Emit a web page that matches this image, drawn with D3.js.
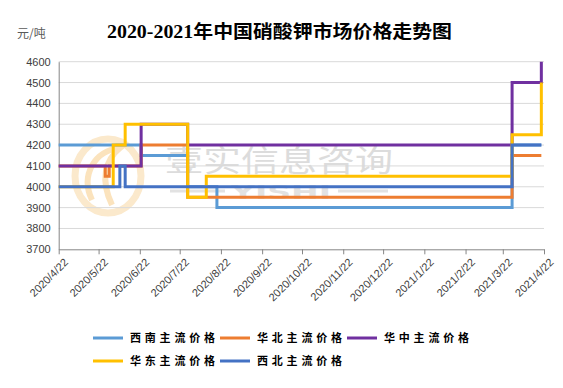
<!DOCTYPE html>
<html>
<head>
<meta charset="utf-8">
<script src="https://cdn.jsdelivr.net/npm/d3@7"></script>
<style>
  body { margin: 0; background: #fff; }
  svg { display: block; }
</style>
</head>
<body>
<svg id="chart" width="563" height="388"></svg>
<script>
//-- data --//
var seriesNames = ["西南主流价格", "华北主流价格", "华中主流价格", "华东主流价格", "西北主流价格"];
var seriesColors = ["#5B9BD5", "#ED7D31", "#7030A0", "#FFC000", "#4472C4"];

// price change points (date the new price starts) for each region
var xinanDates   = ["2020-04-22", "2020-06-23", "2020-07-28", "2020-08-19", "2021-03-29", "2021-04-20"];
var xinanValues  = [4200, 4150, 4000, 3900, 4200, 4200];

var huabeiDates  = ["2020-04-22", "2020-05-27", "2020-05-30", "2020-06-23", "2020-07-28", "2021-03-29", "2021-04-20"];
var huabeiValues = [4100, 4050, 4100, 4200, 3950, 4150, 4150];

var huazhongDates  = ["2020-04-22", "2020-06-23", "2020-07-28", "2021-03-29", "2021-04-20"];
var huazhongValues = [4100, 4300, 4200, 4500, 4600];

var huadongDates  = ["2020-04-22", "2020-06-02", "2020-06-11", "2020-07-28", "2020-08-11", "2021-03-29", "2021-04-20"];
var huadongValues = [4000, 4200, 4300, 3950, 4050, 4250, 4500];

var xibeiDates  = ["2020-04-22", "2020-06-07", "2020-06-11", "2021-03-29", "2021-04-20"];
var xibeiValues = [4000, 4100, 4000, 4200, 4200];

var yTicks = [3700, 3800, 3900, 4000, 4100, 4200, 4300, 4400, 4500, 4600];
var xTicks = ["2020-04-22", "2020-05-22", "2020-06-22", "2020-07-22", "2020-08-22", "2020-09-22", "2020-10-22",
              "2020-11-22", "2020-12-22", "2021-01-22", "2021-02-22", "2021-03-22", "2021-04-22"];
//-- data --//

var parse = d3.timeParse("%Y-%m-%d");
var fmt = d3.timeFormat("%Y/%-m/%-d");

var allSeries = [
    [xinanDates, xinanValues],
    [huabeiDates, huabeiValues],
    [huazhongDates, huazhongValues],
    [huadongDates, huadongValues],
    [xibeiDates, xibeiValues]
].map(function(s, i) {
    return {
        name: seriesNames[i],
        color: seriesColors[i],
        points: s[0].map((d, j) => ({date: parse(d), value: s[1][j]}))
    };
});

//-- margins --//
var svg = d3.select("#chart"),
    margin = {top: 61.7, left: 58.7, bottom: 249.3, right: 544};

var x = d3.scaleTime()
    .domain([parse(xTicks[0]), parse(xTicks[xTicks.length - 1])])
    .range([margin.left, margin.right]);

var y = d3.scaleLinear()
    .domain([3700, 4600])
    .range([margin.bottom, margin.top]);

//-- watermark --//
var wm = svg.append("g").attr("class", "watermark");
wm.append("ellipse")
    .attr("cx", 108).attr("cy", 176).attr("rx", 33).attr("ry", 37)
    .attr("fill", "none").attr("stroke", "#fbe9cc").attr("stroke-width", 7);
wm.append("path")
    .attr("d", "M92,200 C80,175 95,150 120,148 C105,160 100,180 112,205")
    .attr("fill", "none").attr("stroke", "#fbe3bd").attr("stroke-width", 6);
wm.append("text")
    .attr("x", 165).attr("y", 171)
    .attr("textLength", 228).attr("lengthAdjust", "spacingAndGlyphs")
    .style("font-family", "Noto Sans CJK SC")
    .style("font-size", "30px")
    .attr("fill", "#dcdcdc")
    .text("壹实信息咨询");
wm.append("text")
    .attr("x", 281).attr("y", 199)
    .attr("text-anchor", "middle")
    .attr("textLength", 100).attr("lengthAdjust", "spacingAndGlyphs")
    .style("font-family", "DejaVu Sans")
    .style("font-size", "20px").style("font-weight", "bold")
    .attr("fill", "#e2e2e2")
    .text("YISHI");
wm.append("line").attr("x1", 170).attr("x2", 225).attr("y1", 191).attr("y2", 191)
    .attr("stroke", "#e2e2e2").attr("stroke-width", 3);
wm.append("line").attr("x1", 338).attr("x2", 388).attr("y1", 191).attr("y2", 191)
    .attr("stroke", "#e2e2e2").attr("stroke-width", 3);

//-- gridlines --//
svg.append("g")
    .selectAll("line")
    .data(yTicks.slice(1))
    .enter().append("line")
    .attr("x1", margin.left).attr("x2", margin.right)
    .attr("y1", d => y(d)).attr("y2", d => y(d))
    .attr("stroke", "#d9d9d9")
    .attr("stroke-width", 1);

//-- y axis --//
var yAxis = svg.append("g")
    .attr("class", "y-axis")
    .attr("transform", `translate(${margin.left},0)`)
    .call(d3.axisLeft(y).tickValues(yTicks).tickFormat(d3.format("d")).tickSize(0).tickPadding(8));
yAxis.select(".domain").attr("stroke", "#868686");
yAxis.selectAll("text")
    .style("font-family", "Liberation Sans")
    .style("font-size", "11px")
    .attr("fill", "#404040");

//-- x axis --//
var xAxis = svg.append("g")
    .attr("class", "x-axis")
    .attr("transform", `translate(0,${margin.bottom})`)
    .call(d3.axisBottom(x).tickValues(xTicks.map(parse)).tickFormat(fmt).tickSize(5).tickSizeOuter(0));
xAxis.select(".domain").attr("stroke", "#868686");
xAxis.selectAll(".tick line").attr("stroke", "#868686");
xAxis.selectAll("text")
    .style("font-family", "Liberation Sans")
    .style("font-size", "11px")
    .attr("fill", "#404040")
    .style("text-anchor", "end")
    .attr("x", 7)
    .attr("y", 11)
    .attr("dy", "0.35em")
    .attr("transform", "rotate(-45, 7, 11)");

//-- lines --//
var line = d3.line()
    .x(d => x(d.date))
    .y(d => y(d.value))
    .curve(d3.curveStepAfter);

svg.append("g")
    .selectAll("path")
    .data(allSeries)
    .enter().append("path")
    .attr("d", d => line(d.points))
    .attr("fill", "none")
    .attr("stroke", d => d.color)
    .attr("stroke-width", 3)
    .attr("stroke-linejoin", "miter");

//-- title --//
svg.append("text")
    .attr("x", 107).attr("y", 38)
    .attr("textLength", 345).attr("lengthAdjust", "spacingAndGlyphs")
    .style("font-family", "Liberation Serif, Noto Sans CJK SC")
    .style("font-size", "18px")
    .style("font-weight", "bold")
    .attr("fill", "#000")
    .text("2020-2021年中国硝酸钾市场价格走势图");

svg.append("text")
    .attr("x", 17).attr("y", 38)
    .style("font-family", "Noto Sans CJK SC")
    .style("font-size", "12px")
    .attr("fill", "#595959")
    .text("元/吨");

//-- legend --//
var legendPos = [[93, 338], [220, 338], [347, 338], [93, 361], [220, 361]];
var lg = svg.append("g").attr("class", "legend")
    .selectAll("g")
    .data(allSeries)
    .enter().append("g")
    .attr("transform", (d, i) => `translate(${legendPos[i][0]},${legendPos[i][1]})`);

lg.append("line")
    .attr("x1", 0).attr("x2", 30)
    .attr("y1", 0).attr("y2", 0)
    .attr("stroke", d => d.color)
    .attr("stroke-width", 3);

lg.append("text")
    .attr("x", 37)
    .attr("y", 4)
    .attr("textLength", 85).attr("lengthAdjust", "spacing")
    .style("font-family", "Noto Sans CJK SC")
    .style("font-size", "11px")
    .style("font-weight", "bold")
    .attr("fill", "#000")
    .text(d => d.name);
</script>
</body>
</html>
